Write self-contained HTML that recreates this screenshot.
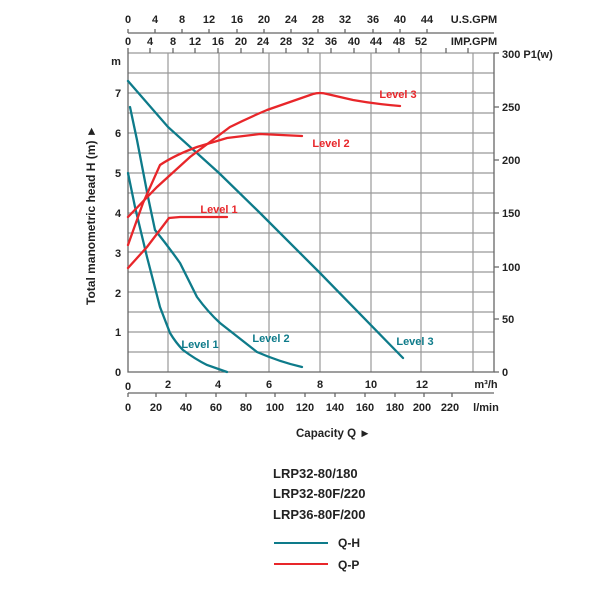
<!DOCTYPE html>
<html><head><style>body{margin:0;background:#fff}svg{display:block}text{font-family:"Liberation Sans",Arial,sans-serif;font-weight:bold}</style></head>
<body>
<svg width="600" height="600" viewBox="0 0 600 600">
<g stroke="#999" stroke-width="1.2" fill="none">
<path d="M128,352H494M128,332H494M128,312H494M128,292H494M128,272H494M128,252H494M128,233H494M128,213H494M128,193H494M128,173H494M128,153H494M128,133H494M128,113H494M128,93H494M128,73H494M128,53H494"/>
<path d="M168,53V372M219,53V372M269,53V372M320,53V372M371,53V372M421,53V372M473,53V372"/>
</g>
<g stroke="#666" stroke-width="1.3" fill="none">
<path d="M128,53V372H494V53"/>
<path d="M128,33H494"/>
<path d="M128,393H494"/>
<path d="M128,33v-4M155,33v-4M182,33v-4M209,33v-4M237,33v-4M264,33v-4M291,33v-4M318,33v-4M345,33v-4M373,33v-4M400,33v-4M427,33v-4"/>
<path d="M128,53v-5M150,53v-5M173,53v-5M195,53v-5M218,53v-5M241,53v-5M263,53v-5M286,53v-5M308,53v-5M331,53v-5M354,53v-5M376,53v-5M399,53v-5M421,53v-5M446,53v-5M468,53v-5"/>
<path d="M494,53h5M494,107h5M494,160h5M494,213h5M494,267h5M494,319h5M494,372h5"/>
<path d="M128,393v4M156,393v4M186,393v4M216,393v4M246,393v4M275,393v4M305,393v4M335,393v4M365,393v4M395,393v4M424,393v4M452,393v4"/>
</g>
<g font-size="11" fill="#222" text-anchor="middle">
<text x="128" y="23">0</text><text x="155" y="23">4</text><text x="182" y="23">8</text><text x="209" y="23">12</text><text x="237" y="23">16</text><text x="264" y="23">20</text><text x="291" y="23">24</text><text x="318" y="23">28</text><text x="345" y="23">32</text><text x="373" y="23">36</text><text x="400" y="23">40</text><text x="427" y="23">44</text>
<text x="474" y="23">U.S.GPM</text>
<text x="128" y="45">0</text><text x="150" y="45">4</text><text x="173" y="45">8</text><text x="195" y="45">12</text><text x="218" y="45">16</text><text x="241" y="45">20</text><text x="263" y="45">24</text><text x="286" y="45">28</text><text x="308" y="45">32</text><text x="331" y="45">36</text><text x="354" y="45">40</text><text x="376" y="45">44</text><text x="399" y="45">48</text><text x="421" y="45">52</text>
<text x="474" y="45">IMP.GPM</text>
<text x="116" y="65">m</text>
<text x="118" y="97">7</text><text x="118" y="137">6</text><text x="118" y="177">5</text><text x="118" y="217">4</text><text x="118" y="257">3</text><text x="118" y="297">2</text><text x="118" y="336">1</text><text x="118" y="376">0</text>
<text x="128" y="390">0</text><text x="168" y="388">2</text><text x="218" y="388">4</text><text x="269" y="388">6</text><text x="320" y="388">8</text><text x="371" y="388">10</text><text x="422" y="388">12</text><text x="486" y="388">m³/h</text>
<text x="128" y="411">0</text><text x="156" y="411">20</text><text x="186" y="411">40</text><text x="216" y="411">60</text><text x="246" y="411">80</text><text x="275" y="411">100</text><text x="305" y="411">120</text><text x="335" y="411">140</text><text x="365" y="411">160</text><text x="395" y="411">180</text><text x="422" y="411">200</text><text x="450" y="411">220</text><text x="486" y="411">l/min</text>
</g>
<g font-size="11" fill="#222">
<text x="502" y="58">300 P1(w)</text>
<text x="502" y="111">250</text><text x="502" y="164">200</text><text x="502" y="217">150</text><text x="502" y="271">100</text><text x="502" y="323">50</text><text x="502" y="376">0</text>
<text x="296" y="437" font-size="11.5">Capacity Q ►</text>
<text transform="translate(95,305) rotate(-90)" font-size="12">Total manometric head H (m) ►</text>
</g>
<g fill="none" stroke="#0e7b8a" stroke-width="2.3" stroke-linecap="round">
<path d="M128,81L168,127L219,173L260,213L320,273L403,358"/>
<path d="M130,107L137,140L148,197L155,230Q168,246 180,263L197,297Q208,312 220,323L257,352Q280,362 302,367"/>
<path d="M128,173L135,207L147,257L160,307L170,333Q176,343 183,350Q195,359 207,365L227,372"/>
</g>
<g fill="none" stroke="#e8262a" stroke-width="2.3" stroke-linecap="round">
<path d="M128,217L157,187L190,157L230,127Q248,118 267,110L313,94Q320,92 327,94L353,100Q375,104 400,106"/>
<path d="M128,245L143,203L160,165Q175,155 197,147L227,138L260,134L302,136"/>
<path d="M128,268L147,247L169,218L180,217L227,217"/>
</g>
<g font-size="11" fill="#e8262a" text-anchor="middle">
<text x="398" y="98">Level 3</text><text x="331" y="147">Level 2</text><text x="219" y="213">Level 1</text>
</g>
<g font-size="11" fill="#0e7b8a" text-anchor="middle">
<text x="200" y="348">Level 1</text><text x="271" y="342">Level 2</text><text x="415" y="345">Level 3</text>
</g>
<g font-size="13" fill="#222">
<text x="273" y="478">LRP32-80/180</text>
<text x="273" y="498">LRP32-80F/220</text>
<text x="273" y="519">LRP36-80F/200</text>
<text x="338" y="547" font-size="12">Q-H</text>
<text x="338" y="569" font-size="12">Q-P</text>
</g>
<path d="M274,543H328" stroke="#0e7b8a" stroke-width="2"/>
<path d="M274,564H328" stroke="#e8262a" stroke-width="2"/>
</svg>
</body></html>
